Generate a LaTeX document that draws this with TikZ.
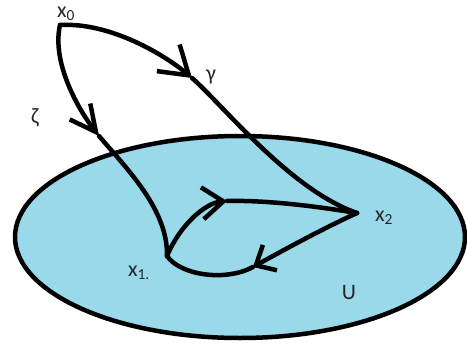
\documentclass[tikz,border=0pt]{standalone}
\usepackage{fontspec}
\setmainfont{Carlito}
\usetikzlibrary{arrows.meta}
\definecolor{regionblue}{RGB}{153,217,234}

\begin{document}
\begin{tikzpicture}[x=1pt,y=-1pt]

% --- STYLES ---
\tikzset{
  pathline/.style={black, line width=4.5pt, line cap=round, line join=round},
  region/.style={draw=black, line width=4.5pt, fill=regionblue},
  ptlabel/.style={font=\fontsize{22}{26}\selectfont, text=black!85, inner sep=0pt},
}
\useasboundingbox (0,0) rectangle (467,349);

% ================= REGION U =================
\draw[region] (240,237) ellipse [x radius=225, y radius=101];
\node[ptlabel] (lU) at (349,293) {U};

% ================= POINTS =================
\coordinate (x0) at (60,25);
\coordinate (x1) at (167,256);
\coordinate (x2) at (357,213);

% arrow points along the paths
\coordinate (gtip) at (192,78);
\coordinate (ztip) at (99,136);
\coordinate (utip) at (227,201);
\coordinate (btip) at (253,267);

% ================= LABELS =================
\node[ptlabel] (lx0) at (66,14) {x\textsubscript{0}};
\node[ptlabel] (lgam) at (211,77) {γ};
\node[ptlabel] (lzeta) at (35,118) {ζ};
\node[ptlabel] (lx2) at (384,218) {x\textsubscript{2}};
\node[ptlabel] (lx1) at (139,273) {x\textsubscript{1.}};

% ================= PATHS =================
% --- gamma: x0 to x2 ---
\draw[pathline, -{Straight Barb[length=27pt, width=35pt]}] (x0) .. controls (110,22) and (165,55) .. (gtip);
\draw[pathline] (gtip) .. controls (222,104) and (290,190) .. (x2);

% --- zeta: x0 to x1 ---
\draw[pathline, -{Straight Barb[length=26pt, width=26pt]}] (x0) .. controls (52,60) and (75,105) .. (ztip);
\draw[pathline] (ztip) .. controls (128,170) and (168,210) .. (x1);

% --- loop: x1 to x2 and back ---
\draw[pathline, -{Straight Barb[length=21pt, width=32pt]}] (x1) .. controls (180,225) and (205,203) .. (utip);
\draw[pathline] (utip) .. controls (270,200) and (320,207) .. (x2);
\draw[pathline, -{Straight Barb[length=16pt, width=29pt]}] (x2) .. controls (320,230) and (280,252) .. (btip);
\draw[pathline] (btip) .. controls (225,282) and (180,275) .. (x1);

\end{tikzpicture}
\end{document}
